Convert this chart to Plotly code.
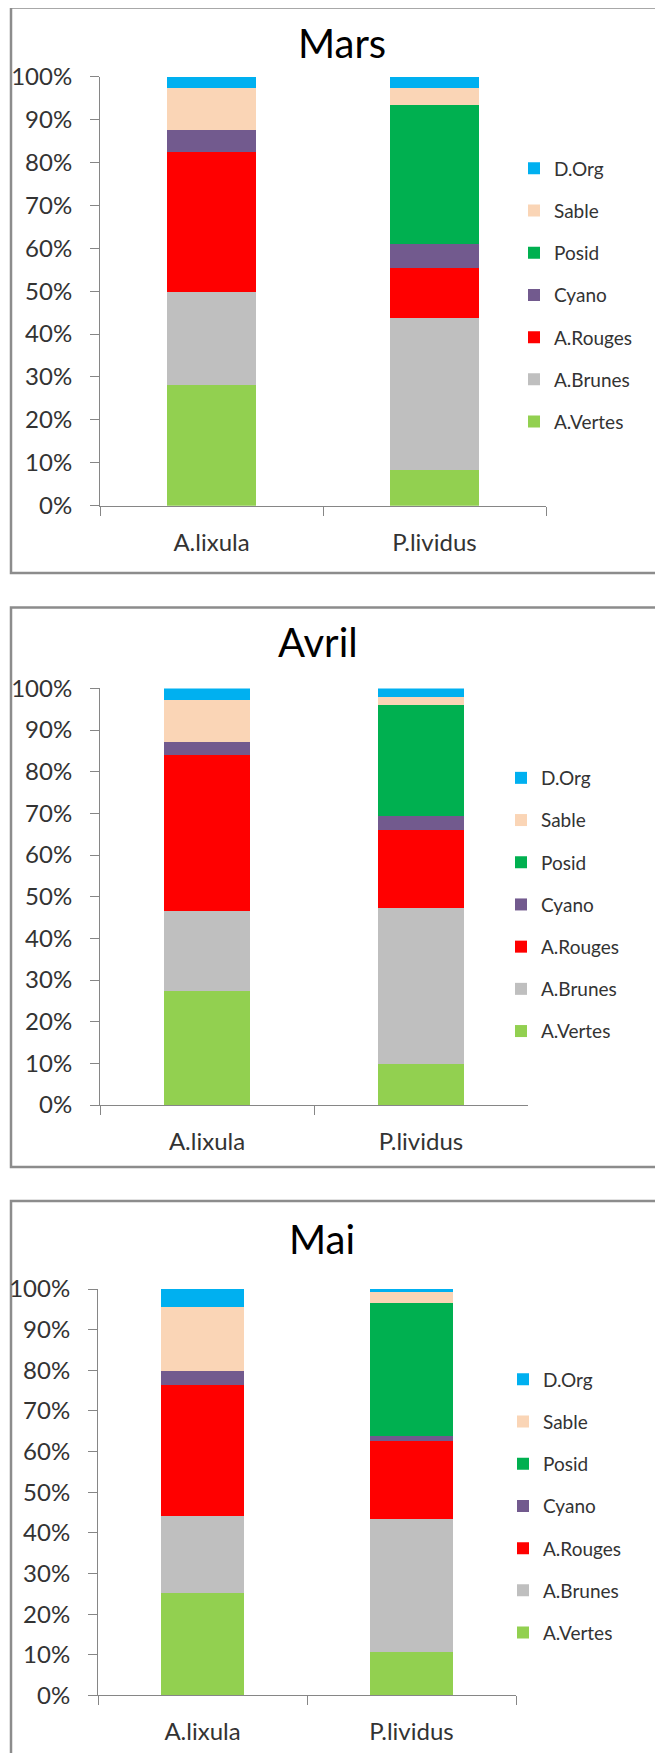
import plotly.graph_objects as go

W, H = 663, 1753
OFF = 8  # page body margin shifts the figure, compensate

categories = ["A.lixula", "P.lividus"]
series = ["A.Vertes", "A.Brunes", "A.Rouges", "Cyano", "Posid", "Sable", "D.Org"]
colors = ["#92D050", "#BFBFBF", "#FF0000", "#725A8E", "#00B050", "#FAD5B6", "#00B0F0"]
months = ["Mars", "Avril", "Mai"]

# % per series (same order as `series`)
mars_lixula = [28.2, 21.5, 32.7, 5.1, 0.0, 9.8, 2.7]
mars_lividus = [8.4, 35.3, 11.6, 5.6, 32.5, 3.9, 2.7]
avril_lixula = [27.4, 19.1, 37.6, 3.1, 0.0, 10.0, 2.8]
avril_lividus = [9.9, 37.3, 18.7, 3.4, 26.7, 2.0, 2.0]
mai_lixula = [25.1, 19.0, 32.4, 3.4, 0.0, 15.6, 4.5]
mai_lividus = [10.6, 32.7, 19.4, 1.1, 32.8, 2.7, 0.7]

y_ticks = [0, 10, 20, 30, 40, 50, 60, 70, 80, 90, 100]
y_tick_labels = ["0%", "10%", "20%", "30%", "40%", "50%", "60%", "70%", "80%", "90%", "100%"]

month_data = [(mars_lixula, mars_lividus), (avril_lixula, avril_lividus), (mai_lixula, mai_lividus)]

# pixel layout of each panel: plot left, right, top(100%), bottom(0%), title pos, legend centre y, box top/bottom
panels = [
    dict(l=100, r=546, t=76.6, b=505.7, title=(342, 42.5), leg=295, box=(7.5, 573)),
    dict(l=100, r=528, t=688.4, b=1105, title=(318, 642), leg=904.5, box=(607.5, 1167)),
    dict(l=98, r=516, t=1289, b=1695.4, title=(322, 1238.5), leg=1506, box=(1201, 1800)),
]
legend_text_x = [555, 542, 544]

FONT = "Lato, 'Open Sans', sans-serif"
TXT = "#333333"
AX = "#868686"

def px(x):
    return (x - OFF) / W

def py(y):
    return 1 - (y - OFF) / H

fig = go.Figure()
layout = dict(
    width=W, height=H, margin=dict(l=0, r=0, t=0, b=0, autoexpand=False),
    paper_bgcolor="white", plot_bgcolor="white",
    barmode="stack", bargap=0.6,
    font=dict(family=FONT, color=TXT),
    shapes=[], annotations=[],
)

for i, (month, p) in enumerate(zip(months, panels)):
    lixula, lividus = month_data[i]
    sfx = "" if i == 0 else str(i + 1)
    leg = "legend" + sfx
    for k, name in enumerate(series):
        fig.add_trace(go.Bar(
            x=categories, y=[lixula[k], lividus[k]], name=name,
            marker=dict(color=colors[k], line=dict(width=0)),
            xaxis="x" + sfx, yaxis="y" + sfx, legend=leg,
            legendgroup=f"{month}{k}", legendrank=100 - k,
        ))

    layout["xaxis" + sfx] = dict(
        domain=[px(p["l"]), px(p["r"])], anchor="y" + sfx,
        showline=True, linecolor=AX, linewidth=1,
        ticks="outside", tickson="boundaries", ticklen=9, tickcolor=AX,
        tickfont=dict(size=24, color=TXT), ticklabelstandoff=15,
        showgrid=False, fixedrange=True, automargin=False,
    )
    layout["yaxis" + sfx] = dict(
        domain=[py(p["b"]), py(p["t"])], anchor="x" + sfx,
        range=[0, 100], tickvals=y_ticks, ticktext=y_tick_labels,
        showline=True, linecolor=AX, linewidth=1,
        ticks="outside", ticklen=9, tickcolor=AX,
        tickfont=dict(size=24, color=TXT), ticklabelstandoff=13,
        showgrid=False, zeroline=False, fixedrange=True, automargin=False,
    )
    layout[leg] = dict(
        x=px(legend_text_x[i] - 41), xanchor="left", y=py(p["leg"]), yanchor="middle",
        traceorder="grouped", tracegroupgap=14.5,
        font=dict(size=19, color=TXT), bgcolor="rgba(0,0,0,0)",
    )
    layout["annotations"].append(dict(
        text=month, x=px(p["title"][0]), y=py(p["title"][1]),
        xref="paper", yref="paper", xanchor="center", yanchor="middle",
        showarrow=False, font=dict(size=40, color="#000000"),
    ))
    b0, b1 = p["box"]
    layout["shapes"].append(dict(
        type="rect", xref="paper", yref="paper",
        x0=px(11), x1=1.05, y0=py(b1), y1=py(b0),
        line=dict(color="#8C8C8C", width=2.5), layer="below",
    ))

fig.update_layout(**layout)
fig.write_html("out.html")
